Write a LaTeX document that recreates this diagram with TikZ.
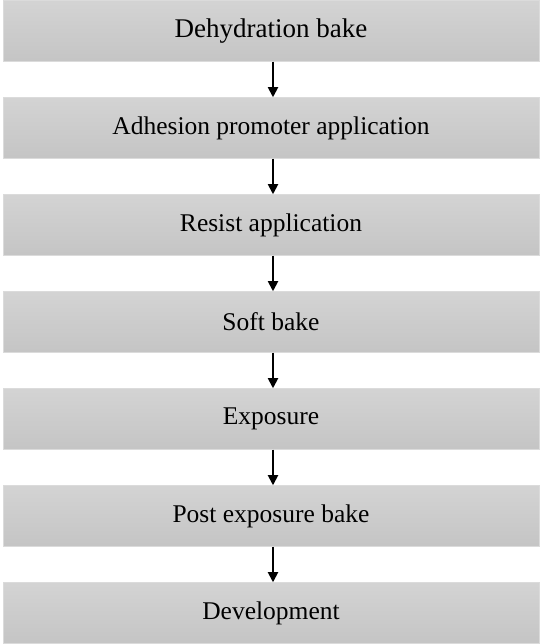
\documentclass[tikz,border=0pt]{standalone}
\usepackage{fontspec}
\setmainfont{Liberation Serif}
\usetikzlibrary{positioning,chains,arrows.meta}

\begin{document}
\begin{tikzpicture}[
x=1pt,y=1pt,
stepbox/.style={rectangle,minimum width=536pt,minimum height=61.5pt,
  outer sep=0pt,inner sep=2pt,draw=black!14,line width=0.6pt,
  top color=black!17,bottom color=black!23,font=\fontsize{25.5}{30}\selectfont},
flow/.style={-{Triangle[width=10pt,length=10pt]},line width=1.8pt},
]
\useasboundingbox (0,0) rectangle (543,644);

\begin{scope}[start chain=going below,node distance=35.5pt]
\node[stepbox,on chain,font=\fontsize{27}{32}\selectfont] (dehyd) at (271,613) {Dehydration bake};
\node[stepbox,on chain] (adhes) {Adhesion promoter application};
\node[stepbox,on chain] (resist) {Resist application};
\node[stepbox,on chain] (soft) {Soft bake};
\node[stepbox,on chain] (expo) {Exposure};
\node[stepbox,on chain] (peb) {Post exposure bake};
\node[stepbox,on chain] (devel) {Development};
\end{scope}

\draw[flow] ([xshift=2pt]dehyd.south) -- ([xshift=2pt]adhes.north);
\draw[flow] ([xshift=2pt]adhes.south) -- ([xshift=2pt]resist.north);
\draw[flow] ([xshift=2pt]resist.south) -- ([xshift=2pt]soft.north);
\draw[flow] ([xshift=2pt]soft.south) -- ([xshift=2pt]expo.north);
\draw[flow] ([xshift=2pt]expo.south) -- ([xshift=2pt]peb.north);
\draw[flow] ([xshift=2pt]peb.south) -- ([xshift=2pt]devel.north);

\end{tikzpicture}
\end{document}
